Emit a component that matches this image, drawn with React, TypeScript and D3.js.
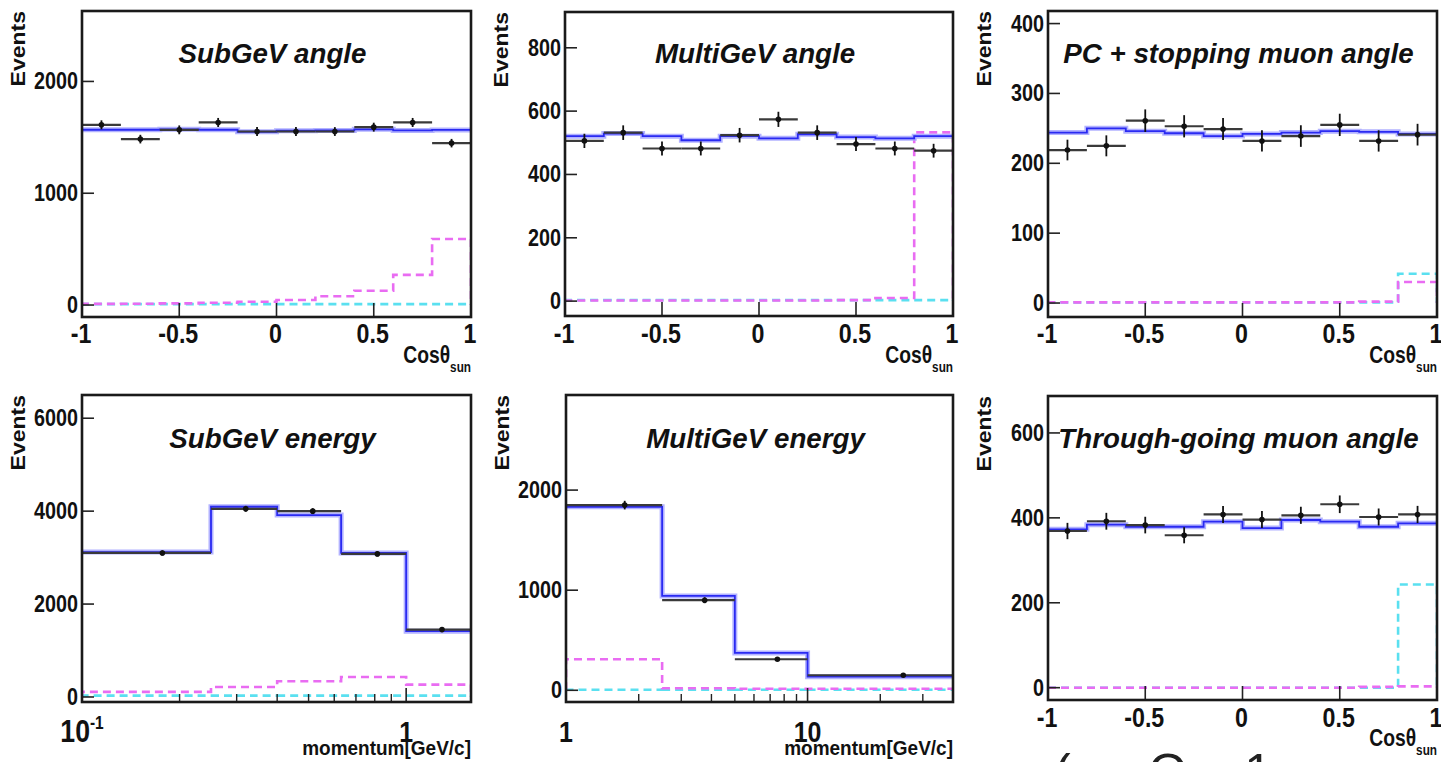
import React from 'react';
import * as d3 from 'd3';

// ---------- DATA ----------
const angleEdges = [-1, -0.8, -0.6, -0.4, -0.2, 0, 0.2, 0.4, 0.6, 0.8, 1];
const angleCenters = [-0.9, -0.7, -0.5, -0.3, -0.1, 0.1, 0.3, 0.5, 0.7, 0.9];
const angleTickValues = [-1, -0.5, 0, 0.5, 1];
const angleTickLabels = ['-1', '-0.5', '0', '0.5', '1'];

// SubGeV angle
const subAngleData = [1612, 1484, 1567, 1633, 1552, 1552, 1552, 1591, 1633, 1448];
const subAngleMC = [1568, 1568, 1572, 1568, 1550, 1560, 1562, 1572, 1562, 1566];
const subAngleMagenta = [10, 12, 15, 20, 30, 45, 78, 128, 270, 590];
const subAngleCyan = [8, 8, 8, 8, 8, 8, 8, 8, 8, 8];
const subAngleYTicks = [0, 1000, 2000];

// MultiGeV angle
const multiAngleData = [506, 532, 482, 482, 524, 574, 532, 496, 482, 475];
const multiAngleMC = [521, 529, 521, 508, 521, 514, 527, 518, 514, 521];
const multiAngleMagenta = [2, 2, 2, 2, 2, 2, 2, 3, 10, 533];
const multiAngleCyan = [3, 3, 3, 3, 3, 3, 3, 3, 3, 3];
const multiAngleYTicks = [0, 200, 400, 600, 800];

// PC + stopping muon angle
const pcAngleData = [219, 225, 261, 253, 249, 232, 239, 255, 232, 241];
const pcAngleMC = [244, 250, 246, 243, 239, 242, 244, 246, 245, 242];
const pcAngleMagenta = [1, 1, 1, 1, 1, 1, 1, 1, 2, 30];
const pcAngleCyan = [1, 1, 1, 1, 1, 1, 1, 1, 1, 42];
const pcAngleYTicks = [0, 100, 200, 300, 400];

// SubGeV energy
const subEnergyEdges = [0.1, 0.25, 0.4, 0.63, 1.0, 1.585];
const subEnergyDataX = [0.177, 0.32, 0.515, 0.815, 1.29];
const subEnergyData = [3100, 4050, 4000, 3080, 1450];
const subEnergyMC = [3120, 4095, 3916, 3100, 1416];
const subEnergyMagenta = [110, 215, 338, 431, 267];
const subEnergyCyan = [30, 30, 30, 30, 30];
const subEnergyYTicks = [0, 2000, 4000, 6000];
const subEnergyMinorTicks = [0.2, 0.3, 0.4, 0.5, 0.6, 0.7, 0.8, 0.9];
const subEnergyMajorTicks = [1];
const subEnergyTickLabels = [
  { v: 0.1, label: '10', sup: '-1' },
  { v: 1, label: '1', sup: '' },
];

// MultiGeV energy
const multiEnergyEdges = [1, 2.5, 5, 10, 40];
const multiEnergyDataX = [1.75, 3.75, 7.5, 24.9];
const multiEnergyData = [1850, 900, 310, 150];
const multiEnergyMC = [1833, 943, 373, 136];
const multiEnergyMagenta = [310, 20, 15, 15];
const multiEnergyCyan = [5, 5, 5, 5];
const multiEnergyYTicks = [0, 1000, 2000];
const multiEnergyMinorTicks = [2, 3, 4, 5, 6, 7, 8, 9, 20, 30];
const multiEnergyMajorTicks = [10];
const multiEnergyTickLabels = [
  { v: 1, label: '1', sup: '' },
  { v: 10, label: '10', sup: '' },
];

// Through-going muon angle
const thruAngleData = [369, 392, 383, 359, 408, 396, 406, 432, 402, 408];
const thruAngleMC = [373, 384, 379, 379, 391, 376, 395, 391, 379, 387];
const thruAngleMagenta = [0, 0, 0, 0, 0, 0, 0, 0, 2, 3];
const thruAngleCyan = [0, 0, 0, 0, 0, 0, 0, 0, 0, 243];
const thruAngleYTicks = [0, 200, 400, 600];

// ---------- STYLE ----------
const FONT = "'Liberation Sans', Arial, Helvetica, sans-serif";
const SX = 0.86;
const BLUE = '#2a2af2';
const BAND = '#a4a4ff';
const MAGENTA = '#e96cf2';
const CYAN = '#5ae0f0';

type Panel = {
  id: string;
  title: string;
  box: { left: number; right: number; top: number; bottom: number };
  yDomain: [number, number];
  yTicks: number[];
  log: boolean;
  xDomain: [number, number];
  edges: number[];
  dataX: number[];
  data: number[];
  mc: number[];
  magenta: number[];
  cyan: number[];
  titleY: number;
  xLabelY: number;
  axisTitleY: number;
  minor?: number[];
  major?: number[];
  logLabels?: { v: number; label: string; sup: string }[];
};

const panels: Panel[] = [
  {
    id: 'p1', title: 'SubGeV angle', box: { left: 82, right: 471, top: 11, bottom: 317 },
    yDomain: [-107, 2630], yTicks: subAngleYTicks, log: false, xDomain: [-1, 1],
    edges: angleEdges, dataX: angleCenters, data: subAngleData, mc: subAngleMC,
    magenta: subAngleMagenta, cyan: subAngleCyan, titleY: 63, xLabelY: 343, axisTitleY: 363,
  },
  {
    id: 'p2', title: 'MultiGeV angle', box: { left: 565, right: 953, top: 12, bottom: 316 },
    yDomain: [-47, 913], yTicks: multiAngleYTicks, log: false, xDomain: [-1, 1],
    edges: angleEdges, dataX: angleCenters, data: multiAngleData, mc: multiAngleMC,
    magenta: multiAngleMagenta, cyan: multiAngleCyan, titleY: 63, xLabelY: 343, axisTitleY: 363,
  },
  {
    id: 'p3', title: 'PC + stopping muon angle', box: { left: 1048, right: 1437, top: 11, bottom: 317 },
    yDomain: [-20, 418], yTicks: pcAngleYTicks, log: false, xDomain: [-1, 1],
    edges: angleEdges, dataX: angleCenters, data: pcAngleData, mc: pcAngleMC,
    magenta: pcAngleMagenta, cyan: pcAngleCyan, titleY: 63, xLabelY: 343, axisTitleY: 363,
  },
  {
    id: 'p4', title: 'SubGeV energy', box: { left: 82, right: 471, top: 395, bottom: 702 },
    yDomain: [-108, 6500], yTicks: subEnergyYTicks, log: true, xDomain: [0.1, 1.585],
    edges: subEnergyEdges, dataX: subEnergyDataX, data: subEnergyData, mc: subEnergyMC,
    magenta: subEnergyMagenta, cyan: subEnergyCyan, titleY: 448, xLabelY: 742, axisTitleY: 755,
    minor: subEnergyMinorTicks, major: subEnergyMajorTicks, logLabels: subEnergyTickLabels,
  },
  {
    id: 'p5', title: 'MultiGeV energy', box: { left: 566, right: 953, top: 395, bottom: 702 },
    yDomain: [-117, 2950], yTicks: multiEnergyYTicks, log: true, xDomain: [1, 40],
    edges: multiEnergyEdges, dataX: multiEnergyDataX, data: multiEnergyData, mc: multiEnergyMC,
    magenta: multiEnergyMagenta, cyan: multiEnergyCyan, titleY: 448, xLabelY: 742, axisTitleY: 755,
    minor: multiEnergyMinorTicks, major: multiEnergyMajorTicks, logLabels: multiEnergyTickLabels,
  },
  {
    id: 'p6', title: 'Through-going muon angle', box: { left: 1048, right: 1437, top: 396, bottom: 700 },
    yDomain: [-29, 687], yTicks: thruAngleYTicks, log: false, xDomain: [-1, 1],
    edges: angleEdges, dataX: angleCenters, data: thruAngleData, mc: thruAngleMC,
    magenta: thruAngleMagenta, cyan: thruAngleCyan, titleY: 448, xLabelY: 727, axisTitleY: 746,
  },
];

function stepPath(
  edges: number[], vals: number[], x: (v: number) => number, y: (v: number) => number, fromBase = true,
) {
  const p = d3.path();
  if (fromBase) p.moveTo(x(edges[0]), y(0));
  else p.moveTo(x(edges[0]), y(vals[0]));
  vals.forEach((v, i) => {
    p.lineTo(x(edges[i]), y(v));
    p.lineTo(x(edges[i + 1]), y(v));
  });
  if (fromBase) p.lineTo(x(edges[edges.length - 1]), y(0));
  return p.toString();
}

function Txt(props: {
  x: number; y: number; size: number; anchor?: string; sx?: number; italic?: boolean;
  weight?: string; rotate?: boolean; fill?: string; children: React.ReactNode;
}) {
  const sx = props.sx ?? SX;
  const tr = `translate(${props.x},${props.y}) scale(${sx},1)${props.rotate ? ' rotate(-90)' : ''}`;
  return (
    <text
      transform={tr}
      fontSize={props.size}
      textAnchor={props.anchor ?? 'start'}
      fontFamily={FONT}
      fontWeight={props.weight ?? 'bold'}
      fontStyle={props.italic ? 'italic' : 'normal'}
      fill={props.fill ?? '#111'}
    >
      {props.children}
    </text>
  );
}

function PanelView({ p }: { p: Panel }) {
  const { left, right, top, bottom } = p.box;
  const x = (p.log ? d3.scaleLog() : d3.scaleLinear()).domain(p.xDomain).range([left, right]);
  const y = d3.scaleLinear().domain(p.yDomain).range([bottom, top]);
  const xs = (v: number) => x(v) as number;
  const ys = (v: number) => y(v);
  const clipId = `clip-${p.id}`;
  const cx = (left + right) / 2 - 4;

  return (
    <g>
      <defs>
        <clipPath id={clipId}>
          <rect x={left} y={top} width={right - left} height={bottom - top} />
        </clipPath>
      </defs>
      <g clipPath={`url(#${clipId})`}>
        <path d={stepPath(p.edges, p.cyan, xs, ys)} fill="none" stroke={CYAN} strokeWidth={2.6} strokeDasharray="8,5" />
        <path d={stepPath(p.edges, p.magenta, xs, ys)} fill="none" stroke={MAGENTA} strokeWidth={2.6} strokeDasharray="8,5" />
        <path d={stepPath(p.edges, p.mc, xs, ys, false)} fill="none" stroke={BAND} strokeWidth={5} opacity={0.85} />
        <path d={stepPath(p.edges, p.mc, xs, ys)} fill="none" stroke={BLUE} strokeWidth={1.8} />
        {p.data.map((v, i) => {
          const err = Math.sqrt(v);
          const px = xs(p.dataX[i]);
          return (
            <g key={i}>
              <line x1={xs(p.edges[i])} x2={xs(p.edges[i + 1])} y1={ys(v)} y2={ys(v)} stroke="#3a3a3a" strokeWidth={2.2} />
              <line x1={px} x2={px} y1={ys(v - err)} y2={ys(v + err)} stroke="#111" strokeWidth={1.8} />
              <circle cx={px} cy={ys(v)} r={2.8} fill="#111" />
            </g>
          );
        })}
      </g>
      {/* y ticks */}
      {p.yTicks.map((t) => (
        <g key={t}>
          <line x1={left} x2={left + 12} y1={ys(t)} y2={ys(t)} stroke="#222" strokeWidth={1.6} />
          <Txt x={left - 4} y={ys(t) + 8} size={23} anchor="end">{String(t)}</Txt>
        </g>
      ))}
      {/* x ticks */}
      {!p.log &&
        angleTickValues.map((t, i) => (
          <g key={t}>
            <line x1={xs(t)} x2={xs(t)} y1={bottom} y2={bottom - 14} stroke="#222" strokeWidth={1.6} />
            <Txt x={xs(t) - 1} y={p.xLabelY} size={27} anchor="middle">{angleTickLabels[i]}</Txt>
          </g>
        ))}
      {p.log && (
        <g>
          {(p.minor ?? []).map((t) => (
            <line key={`m${t}`} x1={xs(t)} x2={xs(t)} y1={bottom} y2={bottom - 8} stroke="#222" strokeWidth={1.4} />
          ))}
          {(p.major ?? []).map((t) => (
            <line key={`M${t}`} x1={xs(t)} x2={xs(t)} y1={bottom} y2={bottom - 14} stroke="#222" strokeWidth={1.6} />
          ))}
          {(p.logLabels ?? []).map((l) => (
            <text
              key={l.label + l.sup}
              transform={`translate(${xs(l.v)},${p.xLabelY}) scale(${SX},1)`}
              fontSize={l.sup ? 31 : 29}
              textAnchor="middle"
              fontFamily={FONT}
              fontWeight="bold"
              fill="#111"
            >
              {l.label}
              {l.sup && (
                <tspan fontSize={18} dy={-13}>
                  {l.sup}
                </tspan>
              )}
            </text>
          ))}
        </g>
      )}
      {/* frame */}
      <rect x={left} y={top} width={right - left} height={bottom - top} fill="none" stroke="#1a1a1a" strokeWidth={2.6} />
      {/* title */}
      <Txt x={cx} y={p.titleY} size={28} anchor="middle" italic sx={0.99}>{p.title}</Txt>
      {/* y axis title */}
      <Txt x={left - 57} y={top} size={23} anchor="end" rotate>Events</Txt>
      {/* x axis title */}
      {p.log ? (
        <Txt x={right} y={p.axisTitleY} size={20} anchor="end" sx={0.95}>momentum[GeV/c]</Txt>
      ) : (
        <text
          transform={`translate(${right},${p.axisTitleY}) scale(0.84,1)`}
          fontSize={23}
          textAnchor="end"
          fontFamily={FONT}
          fontWeight="bold"
          fill="#111"
        >
          Cosθ
          <tspan fontSize={14} dy={9}>sun</tspan>
        </text>
      )}
    </g>
  );
}

export default function App() {
  return (
    <svg
      width={1441}
      height={762}
      style={{ position: 'absolute', left: 0, top: 0, display: 'block', background: '#fff' }}
    >
      <rect x={0} y={0} width={1441} height={762} fill="#fff" />
      {panels.map((p) => (
        <PanelView key={p.id} p={p} />
      ))}
      <text x={1054} y={789} fontSize={50} fontFamily={FONT} fill="#222">
        (cosΘ = 1
      </text>
    </svg>
  );
}
